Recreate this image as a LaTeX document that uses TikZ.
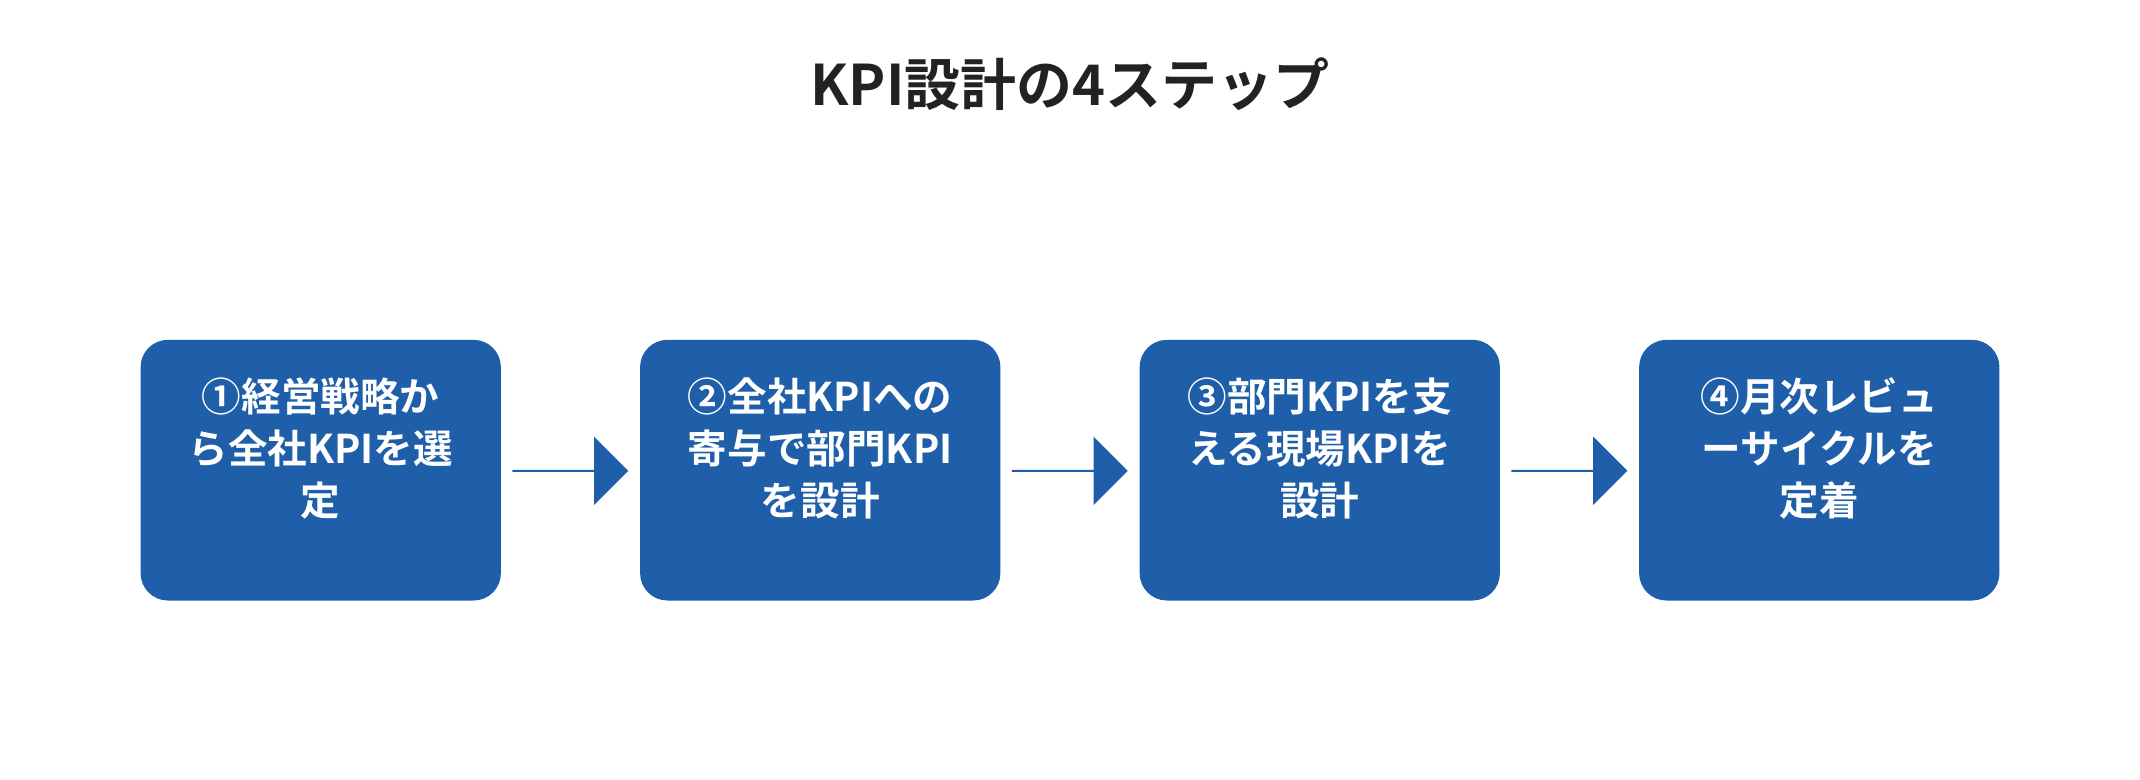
\documentclass[tikz,border=0pt]{standalone}
\usepackage{fontspec}
\setmainfont{Noto Sans CJK JP Bold}
\usetikzlibrary{shapes.arrows}
\definecolor{boxblue}{HTML}{1F5EA8}
\definecolor{titlec}{HTML}{222222}
\begin{document}
\begin{tikzpicture}[x=0.5pt,y=-0.5pt,
  stepbox/.style={fill=boxblue,rounded corners=10pt,minimum width=132pt,minimum height=95.5pt,inner sep=0pt},
  lbl/.style={text=white,font=\fontsize{14.5pt}{19pt}\selectfont,align=center,anchor=north},
  arr/.style={single arrow,fill=boxblue,minimum height=42.5pt,minimum width=25pt,single arrow head extend=6.5pt,inner sep=0pt,anchor=center}]
\useasboundingbox (0,0) rectangle (1568,571.5);
\node[text=titlec,font=\fontsize{20.5pt}{24pt}\selectfont] (title) at (784,62) {KPI設計の4ステップ};
\foreach \i/\x/\t in {1/235/{①経営戦略か\\ら全社KPIを選\\定},2/601/{②全社KPIへの\\寄与で部門KPI\\を設計},3/967/{③部門KPIを支\\える現場KPIを\\設計},4/1333/{④月次レビュ\\ーサイクルを\\定着}}{
  \node[stepbox] (b\i) at (\x,344.5) {};
  \node[lbl] (t\i) at (\x,270) {\t};
}
\foreach \i/\x in {1/417.5,2/783.5,3/1149.5}{
  \node[arr] (a\i) at (\x,345) {};
}
\end{tikzpicture}
\end{document}
